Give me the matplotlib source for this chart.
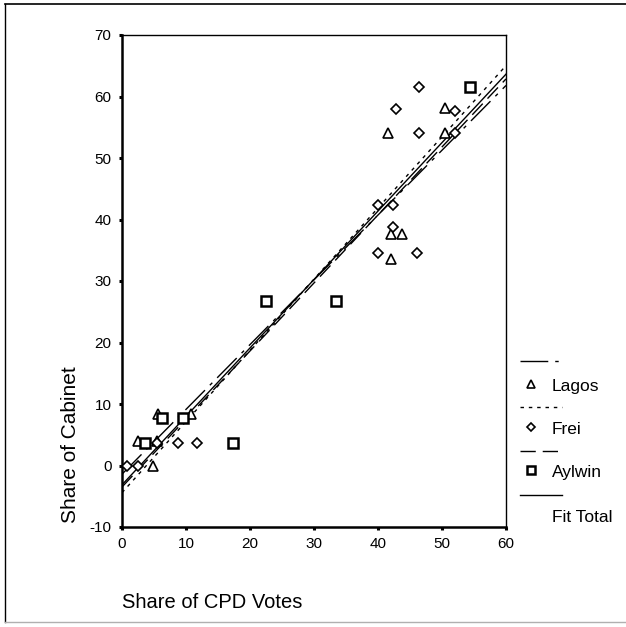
import numpy as np
import matplotlib
matplotlib.use("Agg")
import matplotlib.pyplot as plt

plt.rcParams["font.family"] = ["Liberation Sans", "DejaVu Sans"]
plt.rcParams["axes.unicode_minus"] = False

# share of CPD votes (x) vs share of cabinet (y), per government
LAGOS_X = [4.8, 2.5, 5.4, 5.6, 10.8, 41.6, 50.5, 50.5, 42.0, 43.7, 42.0]
LAGOS_Y = [0.0, 4.0, 4.0, 8.4, 8.4, 54.0, 58.2, 54.0, 37.7, 37.7, 33.5]

FREI_X = [0.8, 2.5, 5.5, 8.7, 11.7, 40.0, 42.3, 42.3, 40.0, 46.1, 42.8, 46.4, 46.4, 52.0, 52.0]
FREI_Y = [0.0, 0.0, 3.7, 3.7, 3.7, 42.3, 42.3, 38.7, 34.6, 34.6, 57.9, 61.5, 54.0, 57.7, 54.0]

AYLWIN_X = [3.6, 6.2, 9.5, 17.4, 22.5, 33.4, 54.4]
AYLWIN_Y = [3.7, 7.8, 7.8, 3.7, 26.8, 26.8, 61.5]

X_TICKS = [0, 10, 20, 30, 40, 50, 60]
Y_TICKS = [-10, 0, 10, 20, 30, 40, 50, 60, 70]

W, H = 626, 627
fig = plt.figure(figsize=(W / 100, H / 100), dpi=100)
ax = fig.add_axes([122 / W, 1 - 527 / H, 384 / W, 492 / H])

series = [
    ("Lagos", LAGOS_X, LAGOS_Y, "^", 7.5, 1.2, (0, (20, 5, 2.5, 5))),
    ("Frei", FREI_X, FREI_Y, "D", 5.5, 1.2, (0, (2.5, 3.5))),
    ("Aylwin", AYLWIN_X, AYLWIN_Y, "s", 6.6, 1.8, (0, (11, 5))),
]

xs = np.array([0, 60])
for name, x, y, mk, ms, mew, ls in series:
    ax.plot(x, y, mk, ms=ms, mfc="white", mec="black", mew=mew, zorder=3)
    b, a = np.polyfit(x, y, 1)
    ax.plot(xs, a + b * xs, color="black", lw=1.0, ls=ls, zorder=2)

all_x = np.array(LAGOS_X + FREI_X + AYLWIN_X)
all_y = np.array(LAGOS_Y + FREI_Y + AYLWIN_Y)
b, a = np.polyfit(all_x, all_y, 1)
ax.plot(xs, a + b * xs, color="black", lw=1.0, zorder=2)

ax.set_xlim(0, 60)
ax.set_ylim(-10, 70)
ax.set_xticks(X_TICKS)
ax.set_yticks(Y_TICKS)
ax.tick_params(length=2.5, width=2.2, labelsize=11, pad=5)
ax.spines["left"].set_linewidth(1.8)
ax.spines["bottom"].set_linewidth(1.8)
ax.spines["top"].set_linewidth(1.0)
ax.spines["right"].set_linewidth(1.0)

# overlay in pixel coords for frame, labels and legend
ov = fig.add_axes([0, 0, 1, 1], zorder=-1)
ov.set_xlim(0, W)
ov.set_ylim(H, 0)
ov.axis("off")
ov.plot([4.5, W], [3.5, 3.5], color="black", lw=1.2)
ov.plot([4.5, 4.5], [3.5, 622], color="black", lw=1.0)
ov.plot([4.5, W], [622, 622], color="#b0b0b0", lw=1.0)

ov.text(122, 603, "Share of CPD Votes", fontsize=14.5, ha="left", va="center")
ov.text(70, 445, "Share of Cabinet", fontsize=15, rotation=90, ha="center", va="center")

lov = fig.add_axes([0, 0, 1, 1], zorder=5)
lov.set_xlim(0, W)
lov.set_ylim(H, 0)
lov.axis("off")
leg_lines = [361, 407, 451, 495]
leg_text = [387, 430, 473]
for (name, x, y, mk, ms, mew, ls), ly, ty in zip(series, leg_lines, leg_text):
    lov.plot([520, 562], [ly, ly], color="black", lw=1.0, ls=ls)
    lov.plot([531], [ty - 3], mk, ms=ms * 0.8, mfc="white", mec="black", mew=mew)
    lov.text(552, ty, name, fontsize=12.5, va="center", ha="left")
lov.plot([520, 562], [leg_lines[3], leg_lines[3]], color="black", lw=1.0)
lov.text(552, 517, "Fit Total", fontsize=12.5, va="center", ha="left")

fig.savefig("out.png", dpi=100)
